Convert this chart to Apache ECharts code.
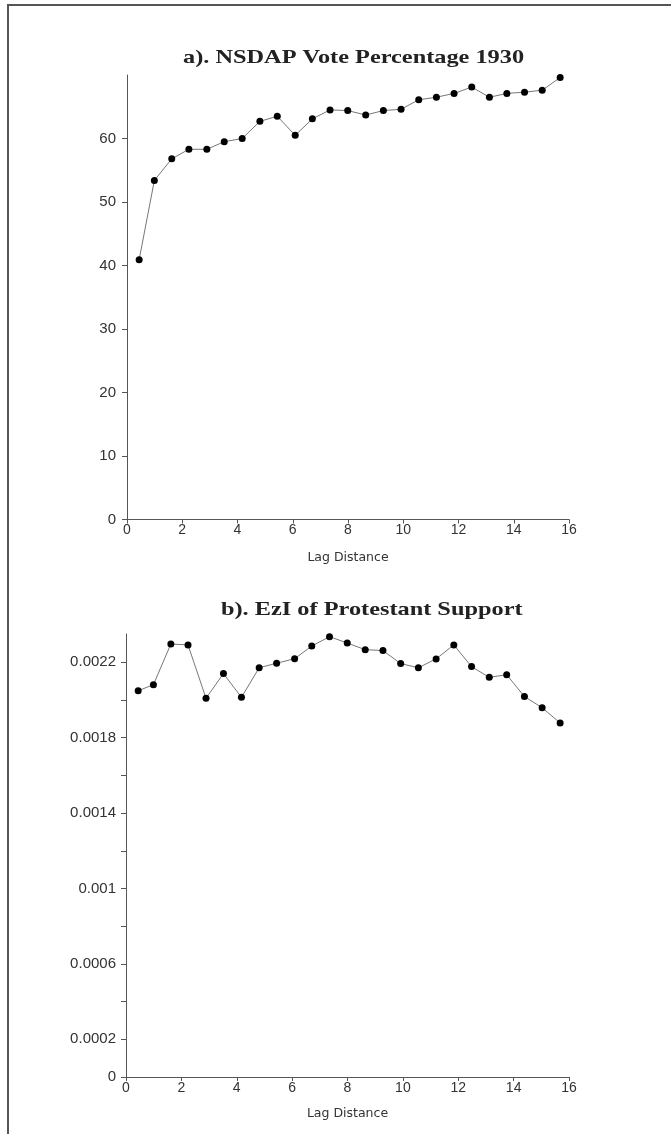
<!DOCTYPE html>
<html>
<head>
<meta charset="utf-8">
<script src="https://cdn.jsdelivr.net/npm/echarts@6/dist/echarts.min.js"></script>
<style>
html,body{margin:0;padding:0;background:#fff;}
#chart{width:671px;height:1134px;}
</style>
</head>
<body>
<div id="chart"></div>
<script>
// Lag distances (x)
var lags = [0.44,0.99,1.62,2.24,2.89,3.52,4.17,4.81,5.44,6.09,6.71,7.35,7.99,8.64,9.28,9.92,10.56,11.20,11.84,12.48,13.12,13.75,14.39,15.03,15.68];
// a) NSDAP vote percentage 1930
var nsdap = [40.9,53.4,56.8,58.3,58.3,59.5,60.0,62.7,63.5,60.5,63.1,64.5,64.4,63.7,64.4,64.6,66.1,66.5,67.1,68.1,66.5,67.1,67.3,67.6,69.6];
// b) EzI of Protestant support
var ezi = [0.002049,0.002081,0.002297,0.002292,0.002009,0.002140,0.002014,0.002171,0.002195,0.002219,0.002286,0.002336,0.002302,0.002267,0.002262,0.002193,0.002171,0.002218,0.002292,0.002177,0.002120,0.002134,0.002018,0.001959,0.001878];
// tick values
var xTicks = [0,2,4,6,8,10,12,14,16];
var yTicksA = [0,10,20,30,40,50,60];
var yTicksB = [0,0.0002,0.0004,0.0006,0.0008,0.001,0.0012,0.0014,0.0016,0.0018,0.002,0.0022];
var yLabelsB = [0,0.0002,0.0006,0.001,0.0014,0.0018,0.0022];
var titleA = 'a). NSDAP Vote Percentage 1930';
var titleB = 'b). EzI of Protestant Support';
var xName = 'Lag Distance';

function pairs(xs, ys){ return xs.map(function(x,i){ return [x, ys[i]]; }); }

var axisColor = '#555';
var labelStyle = {color:'#333', fontFamily:'Liberation Sans', fontSize:14};
var yLabelStyle = {color:'#333', fontFamily:'Liberation Sans', fontSize:15};

function xAxisCfg(gi, gap){
  return {
    type:'value', gridIndex:gi, min:0, max:16, interval:2,
    name:xName, nameLocation:'middle', nameGap:gap,
    nameTextStyle:{color:'#333', fontFamily:'DejaVu Sans', fontSize:12.5},
    axisLine:{show:true, lineStyle:{color:axisColor, width:1}},
    axisTick:{show:true, length:4, lineStyle:{color:axisColor}, customValues:xTicks},
    axisLabel:Object.assign({margin:4, customValues:xTicks}, labelStyle),
    splitLine:{show:false}
  };
}

var option = {
  backgroundColor:'#fff',
  animation:false,
  graphic:[
    {type:'line', shape:{x1:7,y1:5,x2:671,y2:5}, style:{stroke:'#555', lineWidth:2}},
    {type:'line', shape:{x1:8,y1:4,x2:8,y2:1134}, style:{stroke:'#555', lineWidth:2}},
    {type:'text', x:183, y:49, scaleX:1.28, style:{text:titleA, fontFamily:'Liberation Serif', fontWeight:'bold', fontSize:19, fill:'#222', align:'left', verticalAlign:'top'}},
    {type:'text', x:221, y:601, scaleX:1.28, style:{text:titleB, fontFamily:'Liberation Serif', fontWeight:'bold', fontSize:19, fill:'#222', align:'left', verticalAlign:'top'}}
  ],
  grid:[
    {left:127, right:102, top:75, bottom:614.5},
    {left:126, right:102, top:634, bottom:57}
  ],
  xAxis:[ xAxisCfg(0, 32), xAxisCfg(1, 30) ],
  yAxis:[
    {
      type:'value', gridIndex:0, min:0, max:70,
      axisLine:{show:true, lineStyle:{color:axisColor, width:1}},
      axisTick:{show:true, length:5, lineStyle:{color:axisColor}, customValues:yTicksA},
      axisLabel:Object.assign({margin:11, customValues:yTicksA}, yLabelStyle),
      splitLine:{show:false}
    },
    {
      type:'value', gridIndex:1, min:0, max:0.00235,
      axisLine:{show:true, lineStyle:{color:axisColor, width:1}},
      axisTick:{show:true, length:5, lineStyle:{color:axisColor}, customValues:yTicksB},
      axisLabel:Object.assign({margin:10, customValues:yLabelsB}, yLabelStyle),
      splitLine:{show:false}
    }
  ],
  series:[
    {
      type:'line', xAxisIndex:0, yAxisIndex:0, data:pairs(lags, nsdap),
      symbol:'circle', symbolSize:7, itemStyle:{color:'#000'},
      lineStyle:{color:'#777', width:1}
    },
    {
      type:'line', xAxisIndex:1, yAxisIndex:1, data:pairs(lags, ezi),
      symbol:'circle', symbolSize:7, itemStyle:{color:'#000'},
      lineStyle:{color:'#777', width:1}
    }
  ]
};

var chart = echarts.init(document.getElementById('chart'), null, {renderer:'canvas'});
chart.setOption(option);
</script>
</body>
</html>
